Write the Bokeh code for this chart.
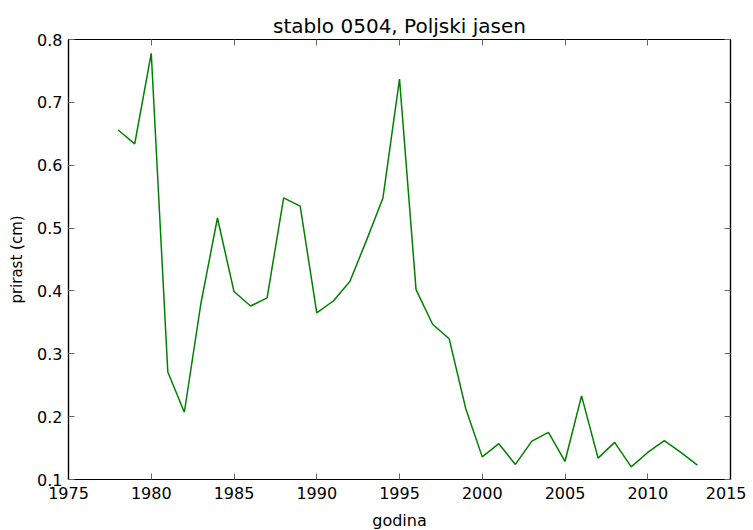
from bokeh.plotting import figure
from bokeh.models import LinearAxis, Range1d, FixedTicker
from bokeh.embed import file_html
from bokeh.resources import INLINE

years = list(range(1978, 2014))
growth = [0.656, 0.634, 0.778, 0.271, 0.207, 0.38, 0.516, 0.399, 0.376, 0.389,
          0.548, 0.535, 0.365, 0.384, 0.415, 0.48, 0.548, 0.737, 0.402, 0.347,
          0.324, 0.213, 0.136, 0.157, 0.124, 0.161, 0.175, 0.129, 0.233, 0.134,
          0.159, 0.120, 0.143, 0.162, 0.143, 0.123]
x_ticks = [1975, 1980, 1985, 1990, 1995, 2000, 2005, 2010, 2015]
y_ticks = [0.1, 0.2, 0.3, 0.4, 0.5, 0.6, 0.7, 0.8]

FONT = "DejaVu Sans"

p = figure(frame_width=662, frame_height=440, output_backend="svg", toolbar_location=None,
           x_range=Range1d(1975, 2015), y_range=Range1d(0.1, 0.8),
           min_border_left=68, min_border_right=16, min_border_top=39, min_border_bottom=50,
           title="stablo 0504, Poljski jasen")
p.title.align = "center"
p.title.text_font = FONT
p.title.text_font_size = "20px"
p.title.text_font_style = "normal"
p.title.text_color = "black"
p.title.standoff = 3

p.line(years, growth, line_color="#008000", line_width=1.5)

p.xgrid.visible = False
p.ygrid.visible = False
p.outline_line_color = "black"
p.outline_line_width = 1.2

def style(ax, labels=True):
    ax.major_tick_in = 6
    ax.major_tick_out = 0
    ax.minor_tick_in = 0
    ax.minor_tick_out = 0
    ax.axis_line_color = "black"
    ax.axis_line_width = 1.2
    ax.major_tick_line_color = "#666666"
    ax.major_label_text_font = FONT
    ax.major_label_text_font_size = "16px"
    ax.major_label_text_color = "black"
    ax.axis_label_text_font = FONT
    ax.axis_label_text_font_size = "16px"
    ax.axis_label_text_font_style = "normal"
    ax.axis_label_text_color = "black"
    if not labels:
        ax.major_label_text_font_size = "0px"
        ax.major_label_text_alpha = 0
        ax.major_label_standoff = 0

p.xaxis.ticker = FixedTicker(ticks=x_ticks)
p.yaxis.ticker = FixedTicker(ticks=y_ticks)
p.xaxis.axis_label = "godina"
p.yaxis.axis_label = "prirast (cm)"
style(p.xaxis[0])
style(p.yaxis[0])
p.xaxis.major_label_standoff = 7
p.yaxis.major_label_standoff = 6
p.xaxis.axis_label_standoff = 9
p.yaxis.axis_label_standoff = 8
p.yaxis.axis_label_text_font_size = "15px"
p.yaxis[0].major_label_overrides = {0.1: "0.1", 0.2: "0.2", 0.3: "0.3", 0.4: "0.4",
                                    0.5: "0.5", 0.6: "0.6", 0.7: "0.7", 0.8: "0.8"}

top = LinearAxis(ticker=FixedTicker(ticks=x_ticks))
style(top, labels=False)
p.add_layout(top, "above")
right = LinearAxis(ticker=FixedTicker(ticks=y_ticks))
style(right, labels=False)
p.add_layout(right, "right")

open("out.html", "w").write(file_html(p, INLINE))
